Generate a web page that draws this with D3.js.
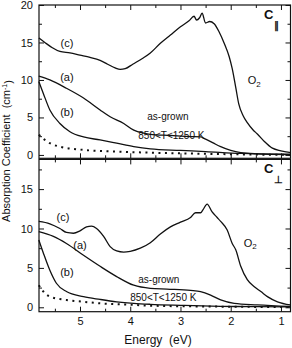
<!DOCTYPE html>
<html>
<head>
<meta charset="utf-8">
<script src="https://cdn.jsdelivr.net/npm/d3@7"></script>
<style>
  body { margin: 0; background: #fff; }
  svg { display: block; font-family: "Liberation Sans", Arial, sans-serif; }
  .tick text { font-size: 11px; fill: #111; }
  .tick line { stroke: #111; stroke-width: 1; }
  .curve { fill: none; stroke: #111; stroke-width: 1.3; }
  .dots { fill: none; stroke: #111; stroke-width: 2; stroke-dasharray: 2,4.5; }
</style>
</head>
<body>
<div id="chart"></div>
<script>
// energy (eV) / absorption coefficient (cm^-1) pairs
const parO2 = [[5.82,15.6],[5.7,15.0],[5.55,14.3],[5.4,13.8],[5.2,13.6],[5.0,13.3],[4.8,13.0],[4.6,12.6],[4.45,12.1],[4.3,11.6],[4.2,11.4],[4.1,11.5],[3.95,12.1],[3.75,12.9],[3.6,13.6],[3.4,14.9],[3.2,16.0],[3.0,17.1],[2.83,17.9],[2.73,18.5],[2.68,18.0],[2.62,18.3],[2.57,18.9],[2.5,17.6],[2.42,17.8],[2.33,17.5],[2.23,16.4],[2.13,14.9],[2.03,13.1],[1.97,11.5],[1.9,9.0],[1.84,6.8],[1.75,5.2],[1.67,4.3],[1.55,3.3],[1.47,2.8],[1.33,1.8],[1.17,0.9],[1.0,0.55],[0.9,0.4],[0.81,0.3]];
const parGrown = [[5.82,10.5],[5.6,10.0],[5.27,8.9],[4.93,7.6],[4.6,6.0],[4.4,5.1],[4.13,4.2],[3.93,3.3],[3.73,2.9],[3.6,2.75],[3.2,2.6],[2.8,2.45],[2.6,2.4],[2.5,2.1],[2.35,1.6],[2.2,1.1],[2.0,0.6],[1.8,0.3],[1.5,0.15],[0.81,0.05]];
const parAnneal = [[5.82,9.8],[5.73,8.2],[5.6,6.0],[5.4,4.2],[5.2,3.1],[4.93,2.4],[4.6,2.0],[4.27,1.56],[3.93,1.1],[3.6,0.8],[3.0,0.6],[2.5,0.45],[1.8,0.2],[0.81,0.1]];
const parDotted = [[5.82,2.7],[5.77,2.4],[5.6,1.56],[5.4,1.1],[4.93,0.67],[4.27,0.45],[3.6,0.3],[2.5,0.15],[1.5,0.05],[0.81,0.0]];

const perO2 = [[5.82,10.9],[5.6,10.6],[5.4,10.0],[5.27,9.5],[5.13,9.4],[5.0,9.7],[4.87,10.2],[4.77,10.3],[4.67,10.0],[4.53,9.0],[4.4,7.7],[4.27,7.15],[4.13,7.0],[4.0,7.1],[3.8,7.5],[3.6,8.2],[3.4,9.3],[3.2,10.2],[3.0,10.8],[2.8,11.4],[2.7,12.0],[2.6,12.0],[2.55,12.4],[2.47,13.1],[2.37,12.1],[2.27,11.4],[2.2,10.9],[2.07,9.8],[1.97,8.1],[1.9,7.3],[1.8,5.2],[1.67,3.5],[1.53,2.6],[1.4,2.0],[1.27,1.35],[1.07,0.7],[0.81,0.3]];
const perGrown = [[5.82,9.6],[5.53,9.0],[5.27,8.1],[4.93,6.6],[4.6,5.2],[4.27,3.9],[3.93,2.8],[3.6,2.4],[3.27,2.3],[2.8,2.15],[2.6,2.0],[2.4,1.55],[2.2,0.93],[1.93,0.5],[1.47,0.3],[0.81,0.1]];
const perAnneal = [[5.82,8.55],[5.73,6.9],[5.6,4.7],[5.47,3.05],[5.27,2.0],[4.93,1.35],[4.6,1.0],[4.27,0.7],[3.93,0.5],[3.6,0.38],[3.0,0.25],[2.2,0.12],[1.5,0.08],[0.81,0.05]];
const perDotted = [[5.82,2.8],[5.73,2.0],[5.6,1.35],[5.27,0.93],[4.93,0.7],[4.6,0.5],[3.93,0.3],[3.6,0.2],[2.5,0.1],[1.5,0.05],[0.81,0.02]];

const xTicks = [5, 4, 3, 2, 1];
const xMinor = [5.5, 4.5, 3.5, 2.5, 1.5];
const parTicks = [0, 5, 10, 15, 20];
const perTicks = [0, 5, 10, 15];
const yMinor = [2.5, 7.5, 12.5, 17.5];

// annotations: [text, energy, value, anchor]
const parNotes = [['(c)',5.26,14.9,'middle'],['(a)',5.26,10.4,'middle'],['(b)',5.26,5.7,'middle'],['as-grown',3.66,5.1,'start'],['850<T<1250 K',3.84,2.55,'start']];
const perNotes = [['(c)',5.34,11.5,'middle'],['(a)',5.0,7.9,'middle'],['(b)',5.26,4.5,'middle'],['as-grown',3.84,3.5,'start'],['850<T<1250 K',4.0,1.3,'start']];

const width = 292, height = 348;
const svg = d3.select('#chart').append('svg')
  .attr('width', width).attr('height', height);

const x = d3.scaleLinear().domain([5.816, 0.81]).range([39, 290.5]);

const panels = [
  { y: d3.scaleLinear().domain([-0.45, 20]).range([158.3, 5]), ticks: parTicks,
    o2: parO2, grown: parGrown, anneal: parAnneal, dotted: parDotted, notes: parNotes,
    o2Label: [1.66, 10], sub: '\u2225' },
  { y: d3.scaleLinear().domain([-0.56, 18.77]).range([311.7, 159.4]), ticks: perTicks,
    o2: perO2, grown: perGrown, anneal: perAnneal, dotted: perDotted, notes: perNotes,
    o2Label: [1.74, 8.2], sub: '\u22A5' }
];

panels.forEach((p, i) => {
  const y = p.y;
  const [y0, y1] = y.range();
  const g = svg.append('g');

  const axes = [
    [d3.axisLeft(y).tickValues(p.ticks).tickSize(-5).tickPadding(6), 'translate(39,0)'],
    [d3.axisLeft(y).tickValues(yMinor).tickSize(-3).tickFormat(''), 'translate(39,0)'],
    [d3.axisRight(y).tickValues(p.ticks).tickSize(-5).tickFormat(''), 'translate(290.5,0)'],
    [d3.axisRight(y).tickValues(yMinor).tickSize(-3).tickFormat(''), 'translate(290.5,0)'],
    [d3.axisTop(x).tickValues(xTicks).tickSize(-5).tickFormat(''), 'translate(0,' + y1 + ')'],
    [d3.axisTop(x).tickValues(xMinor).tickSize(-3).tickFormat(''), 'translate(0,' + y1 + ')'],
    [d3.axisBottom(x).tickValues(xTicks).tickSize(-5).tickPadding(6)
       .tickFormat(i === 1 ? d3.format('d') : ''), 'translate(0,' + y0 + ')'],
    [d3.axisBottom(x).tickValues(xMinor).tickSize(-3).tickFormat(''), 'translate(0,' + y0 + ')']
  ];
  axes.forEach(([ax, tr]) => {
    const a = g.append('g').attr('transform', tr).call(ax);
    a.select('.domain').remove();
    a.selectAll('text').style('font-size', '11px')
      .style('font-family', '"Liberation Sans", Arial, sans-serif');
  });

  g.append('rect')
    .attr('x', 39).attr('y', y1)
    .attr('width', 290.5 - 39).attr('height', y0 - y1)
    .attr('fill', 'none').attr('stroke', '#111').attr('stroke-width', 1.2);

  const line = d3.line()
    .x(d => x(d[0]))
    .y(d => y(d[1]))
    .curve(d3.curveMonotoneX);

  [p.o2, p.grown, p.anneal].forEach(s => {
    g.append('path').datum(s).attr('class', 'curve').attr('d', line);
  });
  g.append('path').datum(p.dotted).attr('class', 'dots').attr('d', line);

  g.selectAll('.note')
    .data(p.notes)
    .enter().append('text')
      .attr('class', 'note')
      .attr('x', d => x(d[1]))
      .attr('y', d => y(d[2]))
      .attr('dy', '0.35em')
      .attr('text-anchor', d => d[3])
      .style('font-size', d => d[0].length > 3 ? '10px' : '11px')
      .attr('fill', '#111')
      .text(d => d[0]);

  const o2 = g.append('text')
    .attr('x', x(p.o2Label[0])).attr('y', y(p.o2Label[1]))
    .attr('dy', '0.35em').style('font-size', '11px').attr('fill', '#111');
  o2.append('tspan').text('O');
  o2.append('tspan').attr('dy', '0.35em').style('font-size', '8px').text('2');

  // C label with polarisation subscript in one text element
  const c = g.append('text')
    .attr('x', 264).attr('y', y1 + 14)
    .style('font-weight', 'bold').attr('fill', '#111');
  c.append('tspan').style('font-size', '13px').text('C');
  c.append('tspan')
    .attr('dx', 1)
    .attr('dy', 10)
    .style('font-size', '10px')
    .text(p.sub);
});

svg.append('text')
  .attr('transform', 'translate(10,151) rotate(-90)')
  .attr('text-anchor', 'middle')
  .style('font-size', '11px').attr('fill', '#111')
  .call(t => {
    t.append('tspan').text('Absorption Coefficient\u00A0\u00A0(cm');
    t.append('tspan').attr('dy', '-0.45em').style('font-size', '7px').text('-1');
    t.append('tspan').attr('dy', '0.45em').text(')');
  });

svg.append('text')
  .attr('x', 158).attr('y', 344)
  .attr('text-anchor', 'middle')
  .style('font-size', '12px').attr('fill', '#111')
  .text('Energy\u00A0\u00A0(eV)');
</script>
</body>
</html>
